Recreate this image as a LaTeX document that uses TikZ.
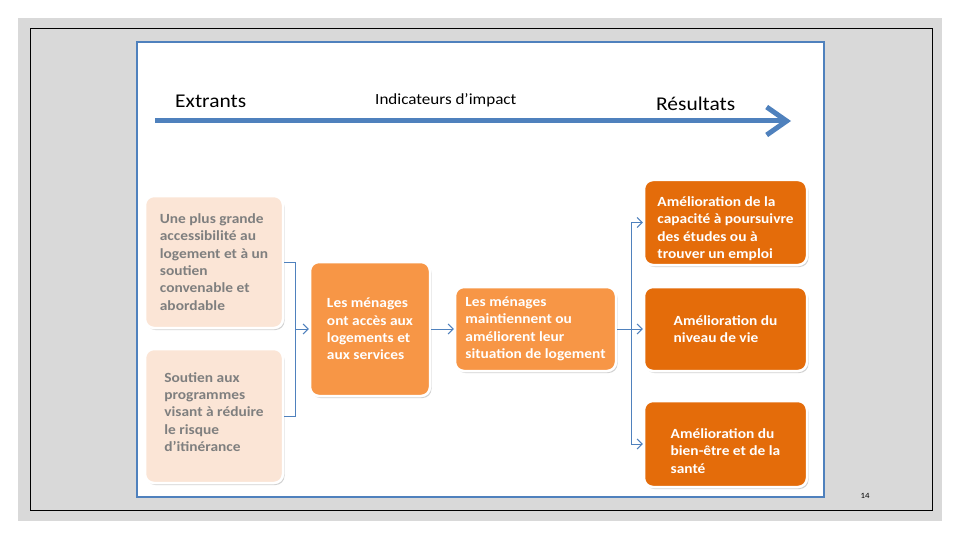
\documentclass[tikz,border=0pt]{standalone}
\usepackage{fontspec}
\setmainfont{Carlito}[FakeStretch=1.1]
\usetikzlibrary{arrows.meta,shadows}
\definecolor{panelblue}{HTML}{4F81BD}
\definecolor{peach}{HTML}{FBE5D6}
\definecolor{orangeA}{HTML}{F79646}
\definecolor{orangeB}{HTML}{E46C0A}
\definecolor{greytext}{HTML}{7F7F7F}
\definecolor{slidegrey}{HTML}{D9D9D9}
\newcommand{\topgap}[1]{\rule{0pt}{#1}}
\newcommand{\botgap}[1]{\rule[-#1]{0pt}{0pt}}
\tikzset{
  box/.style={rounded corners=9pt, draw=white, line width=2.5pt, inner sep=0pt,
    align=left, font=\fontsize{14}{17.3}\selectfont\bfseries,
    drop shadow={shadow xshift=1.5pt, shadow yshift=-2pt, opacity=0.35, fill=gray}},
  lightbox/.style={box, fill=peach, text=greytext},
  midbox/.style={box, fill=orangeA, text=white},
  darkbox/.style={box, fill=orangeB, text=white},
  conn/.style={draw=panelblue, line width=1pt},
  arr/.style={conn, -{Straight Barb[length=5pt,width=10pt]}},
  title/.style={anchor=west, inner sep=0pt}
}
\begin{document}
\begin{tikzpicture}[x=1pt,y=-1pt]
\useasboundingbox (0,0) rectangle (960,540);
\fill[white] (0,0) rectangle (960,540);
\fill[slidegrey] (18,18) rectangle (942,521);
\draw[black, line width=1pt] (30,29) rectangle (932,510);
\draw[panelblue, fill=white, line width=1.6pt] (137,42) rectangle (824,497);
\node[inner sep=0pt, font=\fontsize{8}{9}\selectfont] (pg) at (865,496) {14};

% big arrow
\coordinate (bs) at (155,121);
\coordinate (be) at (791,121);
\draw[panelblue, line width=5pt, -{Straight Barb[length=20pt,width=28pt]}] (bs) -- (be);
\node[title, font=\fontsize{19.5}{22}\selectfont] (t1) at (175,101) {Extrants};
\node[title, font=\fontsize{15.5}{18}\selectfont] (t2) at (375,100) {Indicateurs d’impact};
\node[title, font=\fontsize{19.5}{22}\selectfont] (t3) at (656,104) {Résultats};

% boxes
\node[lightbox, minimum width=138pt, minimum height=132pt] (A) at (214,262)
  {Une plus grande\\accessibilité au\\logement et à un\\soutien\\convenable et\\abordable};
\node[lightbox, minimum width=138pt, minimum height=134pt] (B) at (214,416)
  {Soutien aux\\programmes\\visant à réduire\\le risque\\d’itinérance\botgap{8pt}};
\node[midbox, minimum width=120pt, minimum height=134pt] (C) at (370,329)
  {Les ménages\\ont accès aux\\logements et\\aux services};
\node[midbox, minimum width=161pt, minimum height=84pt] (D) at (535.5,329)
  {Les ménages\\maintiennent ou\\améliorent leur\\situation de logement};
\node[darkbox, minimum width=163pt, minimum height=85pt] (E) at (725.5,222.5)
  {\topgap{22pt}Amélioration de la\\capacité à poursuivre\\des études ou à\\trouver un emploi};
\node[darkbox, minimum width=163pt, minimum height=84pt] (F) at (725.5,329)
  {Amélioration du\\niveau de vie};
\node[darkbox, minimum width=163pt, minimum height=86pt] (G) at (725.5,444)
  {\topgap{24pt}Amélioration du\\bien-être et de la\\santé};

% connectors
\coordinate (j) at (295,329);
\draw[conn] (A.east) -| (j);
\draw[conn] (B.east) -| (j);
\draw[arr] (j) -- (C.west);
\draw[arr] (C.east) -- (D.west);
\coordinate (k) at (631,329);
\draw[conn] (D.east) -- (k);
\draw[conn] (k |- E.west) -- (k |- G.west);
\draw[arr] (k |- E.west) -- (E.west);
\draw[arr] (k) -- (F.west);
\draw[arr] (k |- G.west) -- (G.west);
\end{tikzpicture}
\end{document}
